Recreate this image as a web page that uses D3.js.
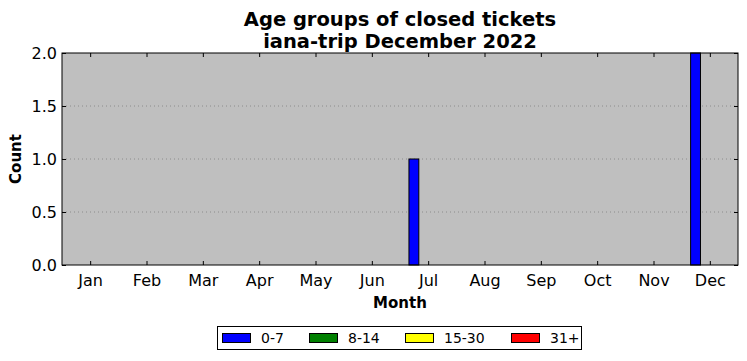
<!DOCTYPE html>
<html><head><meta charset="utf-8">
<script src="https://cdn.jsdelivr.net/npm/d3@7"></script>
<style>body{margin:0;background:#fff;font-family:"DejaVu Sans",sans-serif;}</style>
</head><body><svg id="c" width="747" height="361"></svg>
<script>
const months = ["Jan","Feb","Mar","Apr","May","Jun","Jul","Aug","Sep","Oct","Nov","Dec"];
const groups = ["0-7","8-14","15-30","31+"];
const colors = ["#0000ff","#008000","#ffff00","#ff0000"];
const v0_7   = [0,0,0,0,0,0,1,0,0,0,0,2];
const v8_14  = [0,0,0,0,0,0,0,0,0,0,0,0];
const v15_30 = [0,0,0,0,0,0,0,0,0,0,0,0];
const v31p   = [0,0,0,0,0,0,0,0,0,0,0,0];
const series = [v0_7, v8_14, v15_30, v31p];
const yTicks = [0,0.5,1.0,1.5,2.0];

const svg = d3.select("#c");
const L=62,R=738,T=53,B=265;
const x = d3.scaleLinear().domain([-0.5,11.5]).range([L,R]);
const y = d3.scaleLinear().domain([0,2]).range([B,T]);
const bw = 0.175;

svg.append("rect").attr("x",L).attr("y",T).attr("width",R-L).attr("height",B-T).attr("fill","#bfbfbf");
// grid
svg.append("g").selectAll("line").data(yTicks.slice(1,-1)).join("line")
  .attr("x1",L).attr("x2",R).attr("y1",d=>y(d)).attr("y2",d=>y(d))
  .attr("stroke","#808080").attr("stroke-width",0.8).attr("stroke-dasharray","1,3");

// bars
series.forEach((s,i)=>{
  svg.append("g").selectAll("rect").data(s).join("rect")
    .attr("x",(d,j)=>x(j-2*bw+i*bw)+0.5).attr("width",x(bw)-x(0))
    .attr("y",d=>y(d)).attr("height",d=>y(0)-y(d))
    .attr("fill",colors[i]).attr("stroke","#000").attr("stroke-width",1);
});

// axes with inward ticks
const xb = d3.axisBottom(x).tickValues(d3.range(12)).tickFormat(i=>months[i]).tickSizeInner(-4).tickSizeOuter(0).tickPadding(10);
const xt = d3.axisTop(x).tickValues(d3.range(12)).tickFormat("").tickSizeInner(-4).tickSizeOuter(0);
const yl = d3.axisLeft(y).tickValues(yTicks).tickFormat(d3.format(".1f")).tickSizeInner(-4).tickSizeOuter(0).tickPadding(5);
const yr = d3.axisRight(y).tickValues(yTicks).tickFormat("").tickSizeInner(-4).tickSizeOuter(0);
const style = g=>{g.select(".domain").remove(); g.selectAll("text").attr("font-size",16).attr("font-family","DejaVu Sans").attr("fill","#000"); g.selectAll("line").attr("stroke","#000");};
svg.append("g").attr("transform",`translate(0,${B})`).call(xb).call(style);
svg.append("g").attr("transform",`translate(0,${T})`).call(xt).call(style);
svg.append("g").attr("transform",`translate(${L},0)`).call(yl).call(style);
svg.append("g").attr("transform",`translate(${R},0)`).call(yr).call(style);
svg.append("rect").attr("x",L).attr("y",T).attr("width",R-L).attr("height",B-T).attr("fill","none").attr("stroke","#000").attr("stroke-width",1);

// titles
svg.append("text").attr("x",400).attr("y",26).attr("text-anchor","middle").attr("font-size",19.5).attr("font-weight","bold").text("Age groups of closed tickets");
svg.append("text").attr("x",400).attr("y",48).attr("text-anchor","middle").attr("font-size",19.5).attr("font-weight","bold").text("iana-trip December 2022");
svg.append("text").attr("x",400).attr("y",308).attr("text-anchor","middle").attr("font-size",15).attr("font-weight","bold").text("Month");
svg.append("text").attr("transform","translate(21,159) rotate(-90)").attr("text-anchor","middle").attr("font-size",15).attr("font-weight","bold").text("Count");

// legend
const lg = svg.append("g");
lg.append("rect").attr("x",217.5).attr("y",326.5).attr("width",364).attr("height",23).attr("fill","#fff").attr("stroke","#000");
const lx = [222,309,405,511];
groups.forEach((g,i)=>{
  lg.append("rect").attr("x",lx[i]+0.5).attr("y",333.5).attr("width",28).attr("height",9).attr("fill",colors[i]).attr("stroke","#000");
  lg.append("text").attr("x",lx[i]+39).attr("y",343).attr("font-size",14).text(g);
});
</script></body></html>
